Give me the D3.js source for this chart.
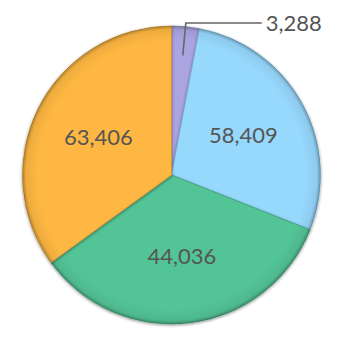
<!DOCTYPE html>
<meta charset="utf-8">
<script src="https://d3js.org/d3.v7.min.js"></script>
<style>
  body { margin: 0; background: #fff; }
</style>
<div id="chart"></div>
<script>

// slices, clockwise from 12 o'clock
var categories = ["A", "B", "C", "D"];
var values = [3288, 58409, 44036, 63406];          // printed labels
var shares = [3.0, 28.0, 34.0, 35.0];              // slice size as drawn (%)
var colors = ["#aaa5e1", "#97d8fd", "#53c496", "#fdb743"];

var width = 344, height = 349;
var cx = 171.5, cy = 175, radius = 149;

var svg = d3.select("#chart").append("svg")
    .attr("width", width)
    .attr("height", height);

var defs = svg.append("defs");

// soft shadow under each slice edge
var f = defs.append("filter").attr("id", "shade")
    .attr("x", "-10%").attr("y", "-10%").attr("width", "120%").attr("height", "120%");
f.append("feDropShadow").attr("dx", 0).attr("dy", 1)
    .attr("stdDeviation", 1.6).attr("flood-color", "#000").attr("flood-opacity", 0.45);

// darken the rim a bit
var rim = defs.append("radialGradient").attr("id", "rim")
    .attr("gradientUnits", "userSpaceOnUse")
    .attr("cx", 0).attr("cy", 0).attr("r", radius);
rim.append("stop").attr("offset", "0.9").attr("stop-color", "#000").attr("stop-opacity", 0);
rim.append("stop").attr("offset", "0.975").attr("stop-color", "#000").attr("stop-opacity", 0.06);
rim.append("stop").attr("offset", "1").attr("stop-color", "#000").attr("stop-opacity", 0.28);

var data = categories.map(function(c, i) {
  return {name: c, value: values[i], share: shares[i], color: colors[i]};
});

var pie = d3.pie().sort(null).value(function(d) { return d.share; });
var arcs = pie(data);

var arc = d3.arc().innerRadius(0).outerRadius(radius);
var labelArc = d3.arc().innerRadius(82).outerRadius(82);

var g = svg.append("g").attr("transform", "translate(" + cx + "," + cy + ")");

var slices = g.selectAll("g.slice").data(arcs).enter().append("g").attr("class", "slice");

slices.append("path")
    .attr("d", arc)
    .attr("fill", function(d) { return d.data.color; })
    .attr("stroke", function(d) { return d3.color(d.data.color).darker(0.6); })
    .attr("stroke-width", 0.8)
    .attr("filter", "url(#shade)");

slices.append("path")
    .attr("d", arc)
    .attr("fill", "url(#rim)");

var fmt = d3.format(",");

// labels inside the big slices
g.selectAll("text.inside").data(arcs.filter(function(d) { return d.data.value > 10000; }))
  .enter().append("text")
    .attr("class", "inside")
    .attr("transform", function(d) {
      var c = labelArc.centroid(d);
      return "translate(" + c[0] + "," + c[1] + ")";
    })
    .attr("text-anchor", "middle")
    .attr("dy", "0.35em")
    .attr("font-family", "Lato, 'Open Sans', sans-serif")
    .attr("font-size", 22)
    .attr("fill", "#555")
    .text(function(d) { return fmt(d.data.value); });

// small slice gets a leader line
var small = arcs[0];
var p0 = d3.arc().innerRadius(120).outerRadius(120).centroid(small);
var p1 = [p0[0] + 3, -radius - 3];
var p2 = [p1[0] + 76, p1[1]];
g.append("polyline")
    .attr("points", [p0, p1, p2].map(function(p) { return p.join(","); }).join(" "))
    .attr("fill", "none")
    .attr("stroke", "#666")
    .attr("stroke-width", 1.6);
g.append("text")
    .attr("x", p2[0] + 4)
    .attr("y", p2[1])
    .attr("dy", "0.35em")
    .attr("font-family", "Lato, 'Open Sans', sans-serif")
    .attr("font-size", 22)
    .attr("fill", "#555")
    .text(fmt(small.data.value));

</script>
